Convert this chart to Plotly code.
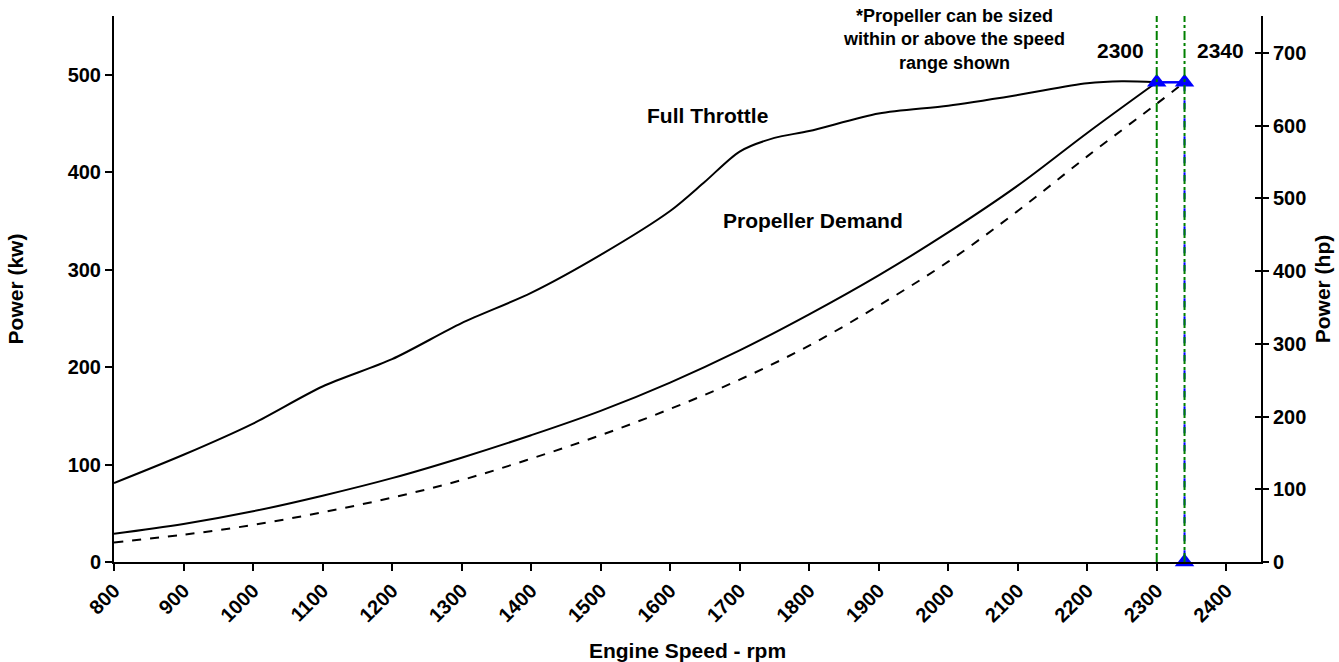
import plotly.graph_objects as go

# ---- data ----
rpm_full = [800, 900, 1000, 1100, 1200, 1300, 1400, 1500, 1600, 1650, 1700, 1750,
            1800, 1900, 2000, 2100, 2200, 2250, 2300]
kw_full = [81, 110, 142, 180, 208, 245, 276, 315, 360, 390, 421, 435,
           442, 460, 468, 479, 491, 493, 492]

rpm_prop = [800, 900, 1000, 1100, 1200, 1300, 1400, 1500, 1600, 1700, 1800,
            1900, 2000, 2100, 2200, 2300]
kw_prop = [29, 39, 52, 68, 86, 107, 130, 155, 184, 217, 254, 294, 338, 386, 440, 492]

rpm_prop2 = [800, 900, 1000, 1100, 1200, 1300, 1400, 1500, 1600, 1700, 1800,
             1900, 2000, 2100, 2200, 2300, 2340]
kw_prop2 = [20, 28, 38, 51, 66, 84, 106, 130, 157, 187, 222, 263, 308, 360, 416, 470, 492]

rated_rpm = [2300, 2340]
rated_kw = 492
x_ticks = list(range(800, 2401, 100))
y_ticks_kw = [0, 100, 200, 300, 400, 500]
y_ticks_hp = [0, 100, 200, 300, 400, 500, 600, 700]
KW_MAX = 560
HP_PER_KW = 1.341

FONT = "Liberation Sans, Arial, sans-serif"
tickfont = dict(family=FONT, size=20, color="black", weight="bold")
titlefont = dict(family=FONT, size=21, color="black", weight="bold")

fig = go.Figure()

# blue rated-point markers and connectors
fig.add_trace(go.Scatter(x=[rated_rpm[1], rated_rpm[1]], y=[rated_kw, 0], mode="lines",
                         line=dict(color="#0000FF", width=2, dash="dash"), showlegend=False))
fig.add_trace(go.Scatter(x=rated_rpm, y=[rated_kw, rated_kw], mode="lines",
                         line=dict(color="#0000FF", width=2.5), showlegend=False))

fig.add_trace(go.Scatter(x=rpm_full, y=kw_full, mode="lines", line_shape="spline",
                         line=dict(color="black", width=2, smoothing=0.8), showlegend=False))
fig.add_trace(go.Scatter(x=rpm_prop, y=kw_prop, mode="lines", line_shape="spline",
                         line=dict(color="black", width=2), showlegend=False))
fig.add_trace(go.Scatter(x=rpm_prop2, y=kw_prop2, mode="lines", line_shape="spline",
                         line=dict(color="black", width=2, dash="dash"), showlegend=False))

fig.add_trace(go.Scatter(x=[rated_rpm[0], rated_rpm[1], rated_rpm[1]], y=[rated_kw, rated_kw, 0],
                         mode="markers", cliponaxis=False,
                         marker=dict(symbol="triangle-up", size=17, color="#0000FF"),
                         showlegend=False))

# green rated-speed lines
for r in rated_rpm:
    fig.add_shape(type="line", x0=r, x1=r, y0=0, y1=1, xref="x", yref="paper",
                  line=dict(color="#008000", width=2, dash="dashdot"), layer="above")

# right axis dummy traces
fig.add_trace(go.Scatter(x=[800], y=[0], yaxis="y2", mode="markers",
                         marker=dict(opacity=0), showlegend=False, hoverinfo="skip"))
fig.add_trace(go.Scatter(x=[800], y=[0], yaxis="y3", mode="markers",
                         marker=dict(opacity=0), showlegend=False, hoverinfo="skip"))

annot = [
    dict(x=1654, y=458, text="Full Throttle", font=titlefont),
    dict(x=1806, y=350, text="Propeller Demand", font=titlefont),
    dict(x=2008, y=536, text="*Propeller can be sized<br>within or above the speed<br>range shown",
         font=dict(family=FONT, size=18, color="black", weight="bold")),
    dict(x=2248, y=525, text=str(rated_rpm[0]), font=titlefont),
    dict(x=2392, y=525, text=str(rated_rpm[1]), font=titlefont),
]
for a in annot:
    fig.add_annotation(xref="x", yref="y", showarrow=False, xanchor="center", yanchor="middle", **a)

fig.update_layout(
    width=1339, height=662,
    margin=dict(l=114, r=78, t=16, b=100, autoexpand=False),
    paper_bgcolor="white", plot_bgcolor="white",
    xaxis=dict(range=[800, 2450], tickvals=x_ticks, tickangle=-45, tickfont=tickfont,
               ticks="outside", ticklen=7, tickwidth=2, tickcolor="black", automargin=False,
               showline=True, linecolor="black", linewidth=2, showgrid=False, zeroline=False,
               title=dict(text="Engine Speed - rpm", font=titlefont, standoff=20)),
    yaxis=dict(range=[0, KW_MAX], tickvals=y_ticks_kw, tickfont=tickfont, automargin=False,
               ticks="outside", ticklen=7, tickwidth=2, tickcolor="black",
               showline=True, linecolor="black", linewidth=2, showgrid=False, zeroline=False,
               title=dict(text="Power (kw)", font=titlefont, standoff=38)),
    yaxis2=dict(range=[0, KW_MAX * HP_PER_KW], tickvals=y_ticks_hp, tickfont=tickfont,
                overlaying="y", side="right", anchor="x", automargin=False,
                ticks="outside", ticklen=6, tickwidth=2, tickcolor="black",
                showline=True, linecolor="black", linewidth=2, showgrid=False, zeroline=False,
                title=dict(text="Power (hp)", font=titlefont, standoff=10)),
    yaxis3=dict(range=[0, KW_MAX * HP_PER_KW], tickvals=y_ticks_hp, showticklabels=False,
                overlaying="y", side="right", anchor="x", automargin=False,
                ticks="inside", ticklen=6, tickwidth=2, tickcolor="black",
                showline=False, showgrid=False, zeroline=False),
)

fig.write_html("out.html", config={"displayModeBar": False},
               post_script="document.body.style.margin='0';")
